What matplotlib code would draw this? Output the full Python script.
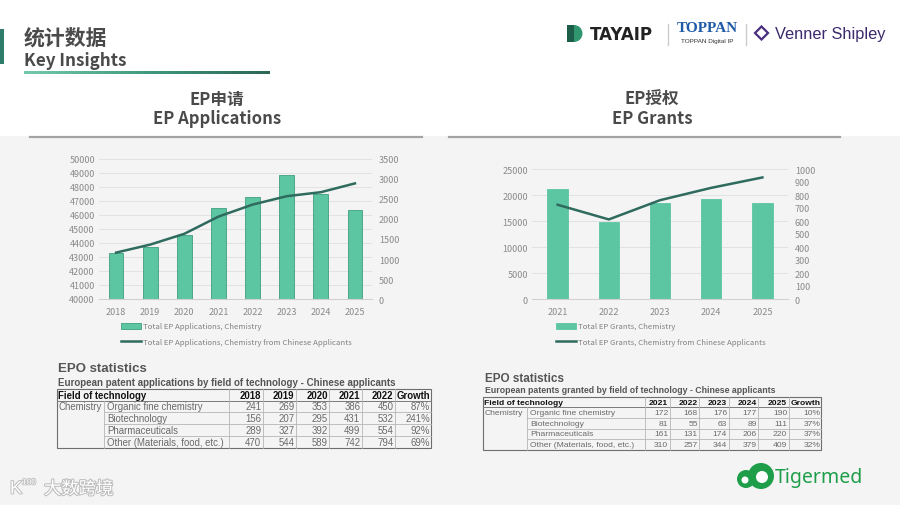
import matplotlib.pyplot as plt
import matplotlib.patheffects as pe
from matplotlib.patches import Rectangle, Circle, Wedge, Polygon, Patch
from matplotlib.lines import Line2D
from matplotlib.colors import LinearSegmentedColormap
import numpy as np

plt.rcParams['font.family'] = ['Noto Sans CJK SC', 'DejaVu Sans']

# chart data
app_years = ['2018', '2019', '2020', '2021', '2022', '2023', '2024', '2025']
app_total = [43300, 43750, 44600, 46530, 47290, 48880, 47500, 46370]
app_cn = [1160, 1360, 1630, 2060, 2360, 2570, 2670, 2890]

grant_years = ['2021', '2022', '2023', '2024', '2025']
grant_total = [21250, 14800, 18400, 19150, 18500]
grant_cn = [725, 612, 760, 855, 935]

# table data
fields = ['Organic fine chemistry', 'Biotechnology', 'Pharmaceuticals',
          'Other (Materials, food, etc.)']
tbl_app_years = ['2018', '2019', '2020', '2021', '2022']
tbl_app = [[241, 269, 353, 386, 450],
           [156, 207, 295, 431, 532],
           [289, 327, 392, 499, 554],
           [470, 544, 589, 742, 794]]
tbl_grant_years = ['2021', '2022', '2023', '2024', '2025']
tbl_grant = [[172, 168, 176, 177, 190],
             [81, 55, 63, 89, 111],
             [161, 131, 174, 206, 220],
             [310, 257, 344, 379, 409]]

BAR = '#5cc6a2'
BAR_EDGE = '#3e9e7e'
LINE = '#2e6b5e'
TICK = '#8a8a8a'
TITLE = '#4a4a4a'

W, H = 900, 506
fig = plt.figure(figsize=(9, 5.06), dpi=100, facecolor='#f4f4f4')


def box(x0, y0, x1, y1):
    # pixel box (top-left origin) -> figure fraction rect
    return [x0 / W, 1 - y1 / H, (x1 - x0) / W, (y1 - y0) / H]


bg = fig.add_axes([0, 0, 1, 1], zorder=0)
bg.axis('off')
bg.add_patch(Rectangle((0, 0), W, 137, color='white', lw=0))

# header
bg.add_patch(Rectangle((0, 30), 4, 35, color='#2e7d6b', lw=0))
bg.text(24, 38, '统计数据', fontsize=15, fontweight='bold', color=TITLE, va='center')
bg.text(24, 61, 'Key Insights', fontsize=12.3, fontweight='bold', color=TITLE, va='center')
grad = np.linspace(0, 1, 256).reshape(1, -1)
cm = LinearSegmentedColormap.from_list('g', ['#74c9aa', '#3f9a7f', '#2d6657'])
bg.imshow(grad, extent=[24, 270, 75, 72], aspect='auto', cmap=cm, zorder=2)

# section titles
for cx, l1, l2 in [(217, 'EP申请', 'EP Applications'), (652, 'EP授权', 'EP Grants')]:
    bg.text(cx, 100, l1, fontsize=12, fontweight='bold', color=TITLE, ha='center', va='center')
    bg.text(cx, 119, l2, fontsize=12, fontweight='bold', color=TITLE, ha='center', va='center')
bg.plot([30, 422], [138, 138], color='#a3a3a3', lw=1.6)
bg.plot([449, 840], [138, 138], color='#a3a3a3', lw=1.6)

# logos (top right)
bg.add_patch(Rectangle((567, 26), 7, 17, color='#1d5e4a', lw=0))
bg.add_patch(Wedge((574, 34.5), 8.5, -90, 90, color='#2f9670', lw=0))
bg.text(590, 35, 'TAYAIP', fontsize=12, fontweight='bold', color='#222222', va='center',
        family='DejaVu Sans')
bg.plot([668, 668], [25, 46], color='#cccccc', lw=1)
bg.text(707.5, 28, 'TOPPAN', fontsize=11, fontweight='bold', color='#1f5aa6', ha='center',
        va='center', family='Liberation Serif')
bg.text(707.5, 41, 'TOPPAN Digital IP', fontsize=4.6, color='#333333', ha='center', va='center',
        family='Liberation Sans')
bg.plot([746, 746], [25, 46], color='#cccccc', lw=1)
bg.add_patch(Polygon([[755, 34], [761.5, 27.5], [768, 34], [761.5, 40.5]], closed=True,
                     fill=False, ec='#4b2f7f', lw=1.6))
bg.text(775, 34, 'Venner Shipley', fontsize=11.8, color='#3d2a6d', va='center',
        family='Liberation Sans')

# logos (bottom)
bg.text(10, 490, 'K', fontsize=13, color='white', va='center', family='Liberation Sans',
        path_effects=[pe.withStroke(linewidth=1.4, foreground='#bdbdbd')])
bg.text(22, 484, '100', fontsize=6, color='white', va='center', family='Liberation Sans',
        path_effects=[pe.withStroke(linewidth=1.2, foreground='#bdbdbd')])
bg.text(44, 490, '大数跨境', fontsize=12.5, color='white', va='center',
        path_effects=[pe.withStroke(linewidth=1.5, foreground='#bdbdbd')])

TG = '#1f9e4a'
bg.add_patch(Circle((746, 480), 9, color=TG, lw=0))
bg.add_patch(Circle((761, 477), 13, color=TG, lw=0))
bg.add_patch(Circle((762, 478), 6, color='white', lw=0))
bg.add_patch(Circle((745, 481), 3.5, color='white', lw=0))
bg.text(775, 478, 'Tigermed', fontsize=14, color=TG, va='center', family='Noto Sans')


# charts
def style_axes(ax, axr):
    for s in ['top', 'left', 'right']:
        ax.spines[s].set_visible(False)
        axr.spines[s].set_visible(False)
    axr.spines['bottom'].set_visible(False)
    ax.spines['bottom'].set_color('#d0d0d0')
    ax.spines['bottom'].set_linewidth(0.8)
    ax.set_facecolor('none')
    ax.tick_params(axis='y', length=0, labelsize=6.5, labelcolor=TICK, pad=3)
    ax.tick_params(axis='x', length=0, labelsize=6.5, labelcolor=TICK, pad=6)
    axr.tick_params(axis='y', length=0, labelsize=6.5, labelcolor=TICK, pad=5)
    ax.grid(axis='y', color='#e2e2e2', lw=0.7)
    ax.set_axisbelow(True)


ax1 = fig.add_axes(box(99, 160, 372, 300), zorder=2)
x = np.arange(len(app_years))
ax1.bar(x, app_total, width=0.43, color=BAR, edgecolor=BAR_EDGE, lw=0.6, zorder=2)
ax1.set_ylim(40000, 50000)
ax1.set_yticks(range(40000, 50001, 1000))
ax1.set_xlim(-0.5, len(app_years) - 0.5)
ax1.set_xticks(x, app_years)
ax1r = ax1.twinx()
ax1r.plot(x, app_cn, color=LINE, lw=1.8, zorder=3)
ax1r.set_ylim(0, 3500)
ax1r.set_yticks(range(0, 3501, 500))
style_axes(ax1, ax1r)

ax2 = fig.add_axes(box(532, 170, 788, 300), zorder=2)
x2 = np.arange(len(grant_years))
ax2.bar(x2, grant_total, width=0.40, color=BAR, edgecolor=BAR, lw=0.6, zorder=2)
ax2.set_ylim(0, 25000)
ax2.set_yticks(range(0, 25001, 5000))
ax2.set_xlim(-0.5, len(grant_years) - 0.5)
ax2.set_xticks(x2, grant_years)
ax2r = ax2.twinx()
ax2r.plot(x2, grant_cn, color=LINE, lw=1.8, zorder=3)
ax2r.set_ylim(0, 1000)
ax2r.set_yticks(range(0, 1001, 100))
style_axes(ax2, ax2r)

for px, py, lbl, ec in [(121, 323.5, 'Total EP Applications, Chemistry', BAR_EDGE),
                        (556, 323.5, 'Total EP Grants, Chemistry', BAR)]:
    handles = [Patch(facecolor=BAR, edgecolor=ec, lw=0.6),
               Line2D([], [], color=LINE, lw=1.8)]
    labels = [lbl, lbl + ' from Chinese Applicants']
    fig.legend(handles, labels, loc='upper left', bbox_to_anchor=(px / W, 1 - py / H),
               frameon=False, fontsize=5.6, labelcolor='#808080', handlelength=2.6,
               handleheight=0.75, handletextpad=0.25, labelspacing=0.95, borderpad=0,
               borderaxespad=0)


# tables
def draw_table(tx, ty, sub, cols, rows, years, data, tsize, ssize, fsize, sub_dy):
    bg.text(tx, ty, 'EPO statistics', fontsize=tsize, fontweight='bold', color='#555555',
            va='center', family='Liberation Sans')
    bg.text(tx, ty + sub_dy, sub, fontsize=ssize, fontweight='bold', color='#555555',
            va='center', family='Liberation Sans')
    x0, x1 = cols[0], cols[-1]
    y0, y1 = rows[0], rows[-1]
    inner = dict(color='#b5b5b5', lw=0.6)
    # horizontal lines
    bg.plot([x0, x1], [rows[1], rows[1]], color='#7a7a7a', lw=0.7)
    for r in rows[2:-1]:
        bg.plot([cols[1], x1], [r, r], **inner)
    # vertical lines
    bg.plot([cols[1], cols[1]], [rows[1], y1], **inner)
    for c in cols[2:-1]:
        bg.plot([c, c], [y0, y1], **inner)
    bg.add_patch(Rectangle((x0, y0), x1 - x0, y1 - y0, fill=False, ec='#6e6e6e', lw=0.8))
    # header
    hy = (rows[0] + rows[1]) / 2
    bg.text(x0 + 1.5, hy, 'Field of technology', fontsize=fsize, fontweight='bold',
            color='#111111', va='center', family='Liberation Sans')
    for j, yr in enumerate(years):
        bg.text(cols[j + 3] - 1.5, hy, yr, fontsize=fsize, fontweight='bold', color='#111111',
                ha='right', va='center', family='Liberation Sans')
    bg.text(x1 - 1, hy, 'Growth', fontsize=fsize, fontweight='bold', color='#111111',
            ha='right', va='center', family='Liberation Sans')
    # body
    kw = dict(fontsize=fsize, color='#6a6a6a', va='center', family='Liberation Sans')
    bg.text(x0 + 1.5, (rows[1] + rows[2]) / 2, 'Chemistry', **kw)
    for i, (name, vals) in enumerate(zip(fields, data)):
        ry = (rows[i + 1] + rows[i + 2]) / 2
        bg.text(cols[1] + 2.5, ry, name, **kw)
        for j, v in enumerate(vals):
            bg.text(cols[j + 3] - 1.5, ry, str(v), ha='right', **kw)
        growth = round((vals[-1] / vals[0] - 1) * 100)
        bg.text(x1 - 1, ry, f'{growth}%', ha='right', **kw)


draw_table(58, 369, 'European patent applications by field of technology - Chinese applicants',
           [57, 104.3, 229.3, 262.7, 296, 329.3, 361.7, 395, 431],
           [390, 401.7, 413.3, 425.3, 437.3, 449.3],
           tbl_app_years, tbl_app, 9.5, 7.0, 6.9, 14)
draw_table(485, 379, 'European patents granted by field of technology - Chinese applicants',
           [483, 527.3, 644.7, 669.7, 699.3, 728.7, 758.3, 788.7, 821.3],
           [398.3, 408.3, 419, 429.7, 440.3, 451],
           tbl_grant_years, tbl_grant, 8.5, 6.3, 6.1, 12)

bg.set_xlim(0, W)
bg.set_ylim(H, 0)

fig.savefig('out.png', dpi=100, facecolor=fig.get_facecolor())
